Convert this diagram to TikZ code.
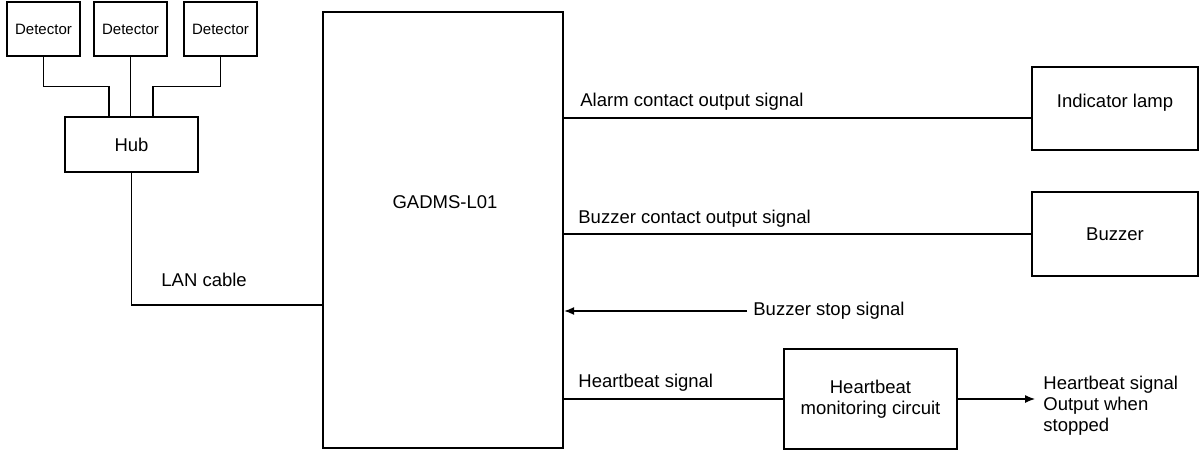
\documentclass[tikz,border=0pt]{standalone}
\usepackage{fontspec}
\setmainfont{Liberation Sans}
\usetikzlibrary{arrows.meta}

\begin{document}
\begin{tikzpicture}[x=0.5pt, y=-0.5pt,
      every node/.style = {font=\fontsize{9.25}{10.5}\selectfont},
      unit/.style = {shape=rectangle, draw, line width=1.2pt, align=center, inner sep=0pt},
      detbox/.style = {unit, minimum width=36.5pt, minimum height=27pt,
        font=\fontsize{7.5}{9}\selectfont},
      lbl/.style = {inner sep=0pt, anchor=west},
      wire/.style = {line width=0.6pt},
      sig/.style = {wire, -{Latex[length=5pt, width=4pt]}}]
  \useasboundingbox (0,0) rectangle (1200,455);
  % left side: detectors and hub
  \node[detbox] (det1) at (43.5,29) {Detector};
  \node[detbox] (det2) at (130.5,29) {Detector};
  \node[detbox] (det3) at (220.5,29) {Detector};
  \node[unit, minimum width=66.5pt, minimum height=27.5pt] (hub) at (131.5,144.5) {Hub};
  \node[unit, minimum width=120pt, minimum height=218pt] (gadms) at (443,230) {};
  \node (gadmslbl) at (445,202) {GADMS-L01};
  \draw[wire] (det1.south) -- ++(0,29) -| ([xshift=-11.25pt]hub.north);
  \draw[wire] (det2.south) -- (det2.south |- hub.north);
  \draw[wire] (det3.south) -- ++(0,29) -| ([xshift=10.75pt]hub.north);
  \draw[wire] (hub.south) |- (gadms.west |- 0,305);
  \node[lbl] (lan) at (161,280) {LAN cable};
  % right side: outputs
  \node[unit, minimum width=83pt, minimum height=41.5pt] (lamp) at (1115,108.5) {};
  \node (lamplbl) at (1115,103) {Indicator lamp};
  \node[unit, minimum width=83pt, minimum height=42pt] (buzzer) at (1115,234) {Buzzer};
  \node[unit, minimum width=86.5pt, minimum height=50pt] (hbmon) at (870.5,399)
    {Heartbeat\\monitoring circuit};
  \draw[wire] (gadms.east |- 0,118) -- (lamp.west |- 0,118);
  \node[lbl] (alarm) at (580,102) {Alarm contact output signal};
  \draw[wire] (gadms.east |- buzzer.west) -- (buzzer.west);
  \node[lbl] (buzz) at (578,219) {Buzzer contact output signal};
  \node[lbl] (stop) at (753,311) {Buzzer stop signal};
  \draw[sig] ([xshift=-3pt]stop.west) -- (gadms.east |- stop.west);
  \draw[wire] (gadms.east |- hbmon.west) -- (hbmon.west);
  \node[lbl] (hb) at (578,383) {Heartbeat signal};
  \node[lbl, align=left, inner xsep=4pt] (hbout) at (1035,406)
    {Heartbeat signal\\Output when\\stopped};
  \draw[sig] (hbmon.east) -- (hbout.west |- hbmon.east);
\end{tikzpicture}
\end{document}
